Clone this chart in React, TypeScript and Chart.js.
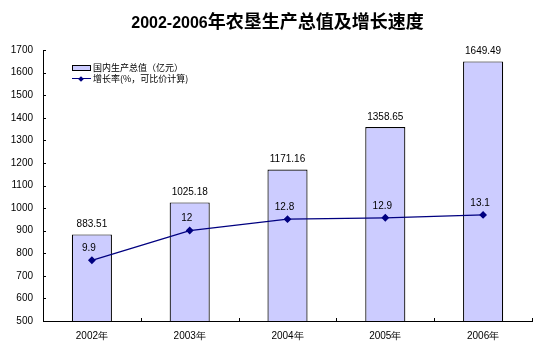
import React, { useEffect, useRef } from "react";
import { Chart, registerables } from "chart.js";

Chart.register(...registerables);

const categories = ["2002年", "2003年", "2004年", "2005年", "2006年"];
const gdpValues = [883.51, 1025.18, 1171.16, 1358.65, 1649.49];
const growthValues = [9.9, 12, 12.8, 12.9, 13.1];
const yTicks = [500, 600, 700, 800, 900, 1000, 1100, 1200, 1300, 1400, 1500, 1600, 1700];
const titleAscii = "2002-2006";
const titleCjk = "年农垦生产总值及增长速度";
const legendBar = "国内生产总值（亿元）";
const legendLine = "增长率(%，可比价计算)";

const W = 555;
const H = 354;
const FONT = "'Liberation Sans', Arial, sans-serif";

const extrasPlugin = {
  id: "extras",
  afterDatasetsDraw(chart: any) {
    const ctx = chart.ctx;
    ctx.save();
    ctx.fillStyle = "#000";
    ctx.font = `10px ${FONT}`;
    ctx.textAlign = "center";
    ctx.textBaseline = "middle";
    const barMeta = chart.getDatasetMeta(1);
    barMeta.data.forEach((el: any, i: number) => {
      ctx.fillText(String(gdpValues[i]), el.x, el.y - 10);
    });
    const lineMeta = chart.getDatasetMeta(0);
    lineMeta.data.forEach((el: any, i: number) => {
      ctx.fillText(String(growthValues[i]), el.x - 3, el.y - 12);
    });
    ctx.restore();
  },
  afterDraw(chart: any) {
    const ctx = chart.ctx;
    const { left, right, bottom } = chart.chartArea;
    const y = chart.scales.y;
    ctx.save();
    ctx.strokeStyle = "#000";
    ctx.lineWidth = 1;
    ctx.beginPath();
    yTicks.forEach((v) => {
      const py = Math.round(y.getPixelForValue(v)) + 0.5;
      ctx.moveTo(left, py);
      ctx.lineTo(left + 3, py);
    });
    const n = categories.length;
    const w = (right - left) / n;
    for (let k = 0; k <= n; k++) {
      const px = Math.round(left + k * w) + 0.5;
      ctx.moveTo(px, bottom);
      ctx.lineTo(px, bottom - 3);
    }
    ctx.stroke();
    ctx.restore();
  },
};

export default function App() {
  const ref = useRef<HTMLCanvasElement | null>(null);
  useEffect(() => {
    document.body.style.margin = "0";
    if (!ref.current) return;
    const chart = new Chart(ref.current, {
      type: "bar",
      data: {
        labels: categories,
        datasets: [
          {
            type: "line",
            label: legendLine,
            data: growthValues,
            yAxisID: "y1",
            borderColor: "#000080",
            backgroundColor: "#000080",
            borderWidth: 1.3,
            pointStyle: "rectRot",
            pointRadius: 3,
            pointBackgroundColor: "#000080",
            pointBorderColor: "#000080",
            tension: 0,
            order: 0,
          } as any,
          {
            type: "bar",
            label: legendBar,
            data: gdpValues,
            yAxisID: "y",
            backgroundColor: "#CCCCFF",
            borderColor: "#000000",
            borderWidth: 1.2,
            categoryPercentage: 1,
            barPercentage: 0.41,
            order: 1,
          },
        ],
      },
      options: {
        responsive: false,
        animation: false,
        layout: { padding: { left: 0, right: 23, top: 50, bottom: 0 } },
        plugins: {
          legend: { display: false },
          title: { display: false },
          tooltip: { enabled: false },
        },
        scales: {
          x: {
            offset: true,
            grid: { display: false, drawTicks: false },
            border: { display: true, color: "#000", width: 1 },
            ticks: { color: "#000", font: { family: FONT, size: 10 }, padding: 9, maxRotation: 0 },
            afterFit: (s: any) => {
              s.height = 33;
            },
          },
          y: {
            min: 500,
            max: 1700,
            grid: { display: false, drawTicks: false },
            border: { display: true, color: "#000", width: 1 },
            ticks: {
              stepSize: 100,
              color: "#000",
              font: { family: FONT, size: 10 },
              padding: 10,
              callback: (v: any) => String(v),
            },
            afterFit: (s: any) => {
              s.width = 43;
            },
          },
          y1: {
            display: false,
            min: 5.61,
            max: 24.75,
            position: "right",
          },
        },
      },
      plugins: [extrasPlugin],
    });
    return () => chart.destroy();
  }, []);

  return (
    <div style={{ position: "relative", width: W, height: H, background: "#fff" }}>
      <canvas ref={ref} width={W} height={H} style={{ position: "absolute", left: 0, top: 0 }} />
      <div
        style={{
          position: "absolute",
          left: 0,
          width: W,
          top: 9,
          textAlign: "center",
          fontWeight: "bold",
          lineHeight: "22px",
          whiteSpace: "nowrap",
          paddingRight: 4,
        }}
      >
        <span style={{ fontFamily: FONT, fontSize: 16 }}>{titleAscii}</span>
        <span style={{ fontFamily: "'Noto Sans CJK SC', sans-serif", fontSize: 18 }}>{titleCjk}</span>
      </div>
      <div
        style={{
          position: "absolute",
          left: 72,
          top: 62,
          fontFamily: "'Noto Sans CJK SC', sans-serif",
          fontSize: 9,
          color: "#000",
          lineHeight: "11px",
          whiteSpace: "nowrap",
        }}
      >
        <div style={{ display: "flex", alignItems: "center", height: 11 }}>
          <span
            style={{
              display: "inline-block",
              width: 17,
              height: 4,
              background: "#CCCCFF",
              border: "1px solid #000",
              marginRight: 2,
            }}
          />
          <span>{legendBar}</span>
        </div>
        <div style={{ display: "flex", alignItems: "center", height: 11 }}>
          <span style={{ position: "relative", display: "inline-block", width: 19, height: 11, marginRight: 2 }}>
            <span
              style={{
                position: "absolute",
                left: 0,
                top: 5,
                width: 19,
                height: 1.3,
                background: "#000080",
              }}
            />
            <span
              style={{
                position: "absolute",
                left: 7,
                top: 3.5,
                width: 4,
                height: 4,
                background: "#000080",
                transform: "rotate(45deg)",
              }}
            />
          </span>
          <span>{legendLine}</span>
        </div>
      </div>
    </div>
  );
}
